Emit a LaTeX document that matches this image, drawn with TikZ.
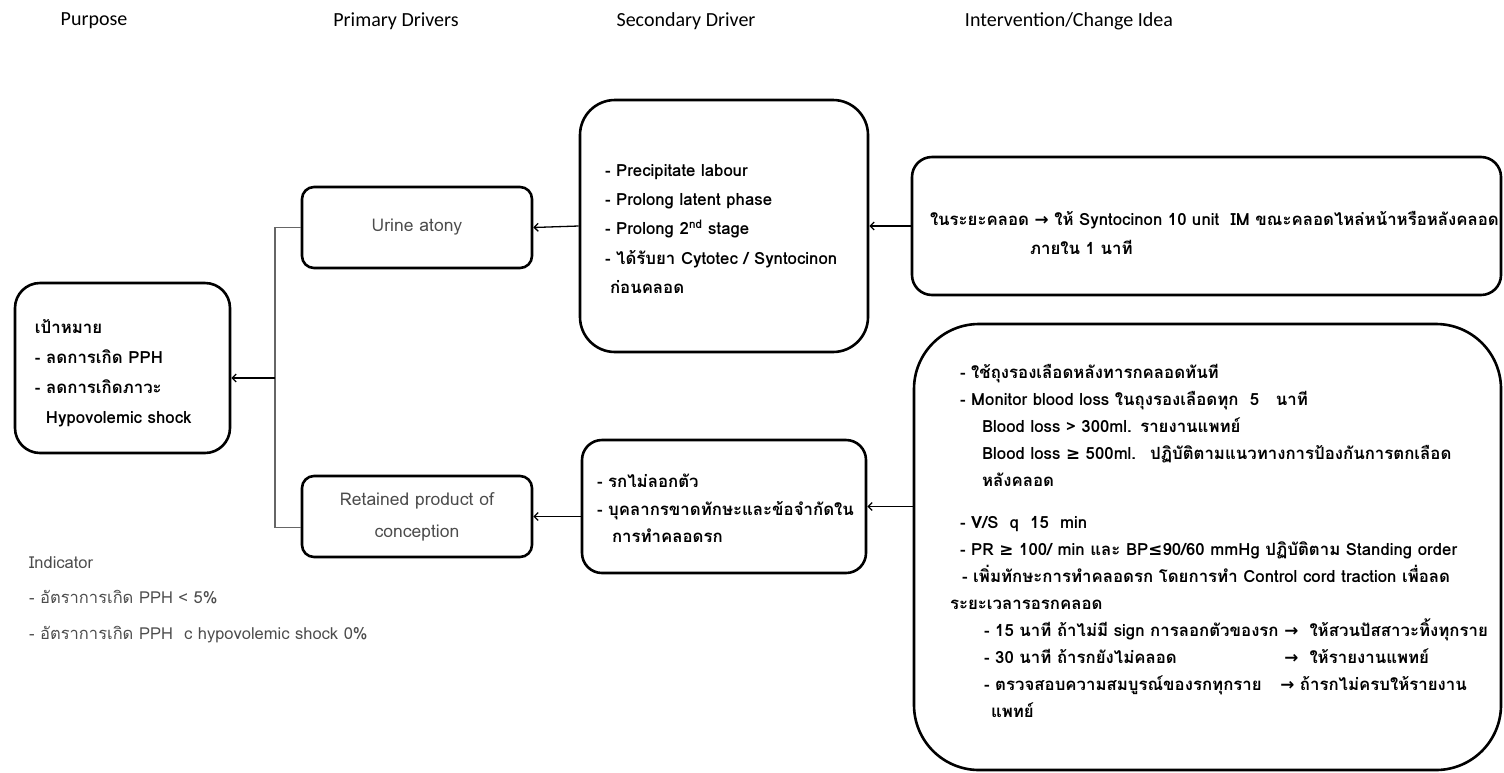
\documentclass[tikz,border=0pt]{standalone}
\usepackage{fontspec}
\setmainfont{Carlito}
\newfontfamily\thai[Script=Thai]{Loma}
\newfontfamily\symf{DejaVu Sans}
\usetikzlibrary{arrows.meta}

\newcommand{\rarr}{{\symf\char"2192}}
\newcommand{\geqs}{{\symf\char"2265}}
\newcommand{\leqs}{{\symf\char"2264}}
% trailing kern that moves a centred text block up (positive) or down (negative)
\newcommand{\nudge}[1]{\par\kern#1\relax}
\newlength\colA

\tikzset{
  head/.style={font=\fontsize{20}{24}\selectfont, text=black},
  box/.style={draw, line width=2.6pt, inner ysep=0pt, align=left,
    font=\thai\bfseries\fontsize{16.8}{29}\selectfont},
  drvbox/.style={draw, line width=2.6pt, rounded corners=12pt, inner sep=0pt,
    minimum width=230pt, minimum height=81pt, align=center, text=black!70,
    font=\thai\fontsize{17.5}{32}\selectfont},
  bus/.style={draw=black!60, line width=1.3pt},
  feed/.style={draw, line width=1.3pt, -{Straight Barb[length=4pt,width=8pt]}},
}

\begin{document}
\begin{tikzpicture}[x=1pt, y=-1pt]
\useasboundingbox (0,0) rectangle (1504,772);

% column headings
\node[head] (h1) at (94,21) {Purpose};
\node[head] (h2) at (396,21) {Primary Drivers};
\node[head] (h3) at (686,21) {Secondary Driver};
\node[head] (h4) at (1069,21) {Intervention/Change Idea};

% purpose
\node[box, rounded corners=25pt, minimum width=215pt, minimum height=170pt,
      inner xsep=0pt, text width=215pt, font=\thai\bfseries\fontsize{16.8}{30}\selectfont] (goal) at (122.5,368)
  {\hspace*{20pt}เป้าหมาย\\\hspace*{20pt}- ลดการเกิด PPH\\\hspace*{20pt}- ลดการเกิดภาวะ\\\hspace*{31pt}Hypovolemic shock\nudge{-10pt}};

% primary drivers
\node[drvbox] (atony) at (417,227.5) {Urine atony};
\node[drvbox] (retained) at (417,516.5)
  {Retained product of\\conception};

% secondary drivers
\node[box, rounded corners=35pt, minimum width=288pt, minimum height=252pt,
      inner xsep=0pt, text width=288pt, font=\thai\bfseries\fontsize{16.8}{29.3}\selectfont] (sec1) at (724,226)
  {\hspace*{25pt}- Precipitate labour\\\hspace*{25pt}- Prolong latent phase\\
   \hspace*{25pt}- Prolong 2\textsuperscript{nd} stage\\
   \hspace*{25pt}- ได้รับยา Cytotec / Syntocinon\\\hspace*{30pt}ก่อนคลอด\nudge{-6pt}};
\node[box, rounded corners=20pt, minimum width=284pt, minimum height=133pt,
      inner xsep=0pt, text width=284pt, font=\thai\bfseries\fontsize{16.8}{27.5}\selectfont] (sec2) at (724,506.5)
  {\hspace*{15pt}- รกไม่ลอกตัว\\\hspace*{15pt}- บุคลากรขาดทักษะและข้อจำกัดใน\\\hspace*{30pt}การทำคลอดรก\nudge{-4pt}};

% change ideas
\node[box, rounded corners=20pt, minimum width=589pt, minimum height=138pt,
      inner xsep=0pt, text width=589pt] (int1) at (1206.5,226)
  {\hspace*{18pt}ในระยะคลอด \rarr\ ให้ Syntocinon 10 unit~ IM ขณะคลอดไหล่หน้าหรือหลังคลอด\\
   \hspace*{118pt}ภายใน 1 นาที\nudge{-13pt}};
\node[box, rounded corners=65pt, minimum width=587pt, minimum height=446pt,
      inner xsep=0pt, text width=587pt, font=\thai\bfseries\fontsize{16.8}{27}\selectfont] (int2) at (1207.5,547)
  {\settowidth{\colA}{- 15 นาที ถ้าไม่มี sign การลอกตัวของรก\ }%
   \hspace*{46pt}- ใช้ถุงรองเลือดหลังทารกคลอดทันที\\
   \hspace*{46pt}- Monitor blood loss ในถุงรองเลือดทุก~ 5~~ นาที\\
   \hspace*{68pt}Blood loss > 300ml. รายงานแพทย์\\
   \hspace*{68pt}Blood loss \geqs\ 500ml.~ ปฏิบัติตามแนวทางการป้องกันการตกเลือด\\
   \hspace*{68pt}หลังคลอด\\[15pt]
   \hspace*{46pt}- V/S~ q~ 15~ min\\
   \hspace*{46pt}- PR \geqs\ 100/ min และ BP\leqs90/60 mmHg ปฏิบัติตาม Standing order\\
   \hspace*{48pt}- เพิ่มทักษะการทำคลอดรก โดยการทำ Control cord traction เพื่อลด\\
   \hspace*{36pt}ระยะเวลารอรกคลอด\\
   \hspace*{70pt}\makebox[\colA][l]{- 15 นาที ถ้าไม่มี sign การลอกตัวของรก}\rarr~ ให้สวนปัสสาวะทิ้งทุกราย\\
   \hspace*{70pt}\makebox[\colA][l]{- 30 นาที ถ้ารกยังไม่คลอด}\rarr~ ให้รายงานแพทย์\\
   \hspace*{70pt}\makebox[\dimexpr\colA-4pt\relax][l]{- ตรวจสอบความสมบูรณ์ของรกทุกราย}\rarr\ ถ้ารกไม่ครบให้รายงาน\\
   \hspace*{77pt}แพทย์\nudge{13pt}};

% indicators
\node[anchor=north west, align=left, inner sep=0pt, text=black!70,
      font=\thai\fontsize{16.5}{35.5}\selectfont] (ind) at (29,556)
  {Indicator\\- อัตราการเกิด PPH < 5\%\\- อัตราการเกิด PPH~ c hypovolemic shock 0\%};

% connectors
\coordinate (split) at (275,378);
\draw[bus] (atony.west) -| (split) |- ([yshift=-11pt]retained.west);
\draw[feed] (split) -- (goal.east |- split);
\draw[feed] (sec1.west) -- (atony.east);
\draw[feed] (sec2.west |- retained.east) -- (retained.east);
\draw[feed] (int1.west) -- (sec1.east);
\draw[feed] (int2.west |- sec2.east) -- (sec2.east);
\end{tikzpicture}
\end{document}
